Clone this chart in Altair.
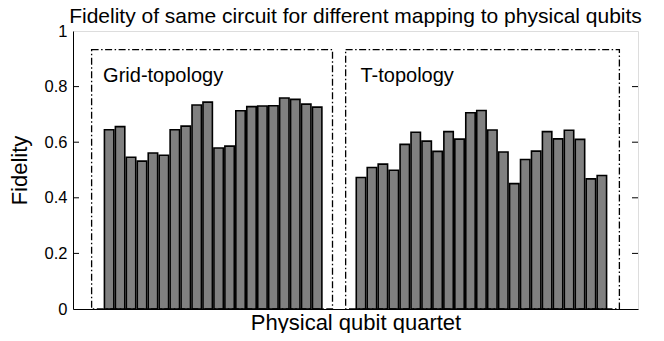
import altair as alt
import pandas as pd

# Fidelity values
grid_fidelity = [0.645, 0.656, 0.546, 0.532, 0.561, 0.553, 0.645, 0.658, 0.734, 0.744,
                 0.579, 0.586, 0.713, 0.728, 0.730, 0.731, 0.759, 0.754, 0.737, 0.726]
t_fidelity = [0.473, 0.509, 0.521, 0.499, 0.592, 0.636, 0.604, 0.567, 0.638, 0.611,
              0.706, 0.714, 0.644, 0.565, 0.451, 0.538, 0.568, 0.638, 0.612, 0.643,
              0.610, 0.468, 0.480]
group_names = ["Grid-topology", "T-topology"]
y_ticks = [0, 0.2, 0.4, 0.6, 0.8, 1]

FONT = "Liberation Sans"
HALF = 0.43

# bar table: grid quartets 1..20, gap of three slots, T quartets 24..46
pos_grid = list(range(1, len(grid_fidelity) + 1))
pos_t = list(range(len(grid_fidelity) + 4, len(grid_fidelity) + 4 + len(t_fidelity)))
bars = pd.DataFrame({
    "pos": pos_grid + pos_t,
    "fidelity": grid_fidelity + t_fidelity,
    "group": [group_names[0]] * len(grid_fidelity) + [group_names[1]] * len(t_fidelity),
})
bars["x0"] = bars["pos"] - HALF
bars["x1"] = bars["pos"] + HALF

# dashed group boxes and their labels
boxes = pd.DataFrame({
    "group": group_names,
    "left": [-0.6, 22.6],
    "right": [21.4, 47.6],
    "top": [0.933, 0.933],
    "bottom": [0, 0],
    "label_x": [0.45, 23.95],
    "label_y": [0.818, 0.818],
})

ticks = pd.DataFrame({"y": y_ticks[1:-1]})

xscale = alt.Scale(domain=[-2.3, 49.3], nice=False, zero=False)
yscale = alt.Scale(domain=[0, 1], nice=False)

W, H = 565, 278

bar_layer = alt.Chart(bars).mark_rect(
    fill="#808080", stroke="black", strokeWidth=1.6
).encode(
    x=alt.X("x0:Q", scale=xscale,
            axis=alt.Axis(title="Physical qubit quartet", labels=False, ticks=False,
                          grid=False, domainColor="black", titlePadding=3,
                          titleFont=FONT, titleFontSize=22, titleFontWeight="normal",
                          titleColor="black")),
    x2="x1:Q",
    y=alt.Y("fidelity:Q", scale=yscale,
            axis=alt.Axis(title="Fidelity", values=y_ticks, format=".1~f", ticks=False,
                          grid=False, domainColor="black", labelPadding=6,
                          labelFont=FONT, labelFontSize=16.5, labelColor="black",
                          titleFont=FONT, titleFontSize=22, titleFontWeight="normal",
                          titleColor="black", titlePadding=13)),
    y2=alt.Y2(datum=0),
)

box_layer = alt.Chart(boxes).mark_rect(
    fill=None, filled=False, stroke="black", strokeWidth=1.3, strokeDash=[7, 2.5, 1.5, 2.5]
).encode(
    x=alt.X("left:Q", scale=xscale),
    x2="right:Q",
    y=alt.Y("top:Q", scale=yscale),
    y2="bottom:Q",
)

label_layer = alt.Chart(boxes).mark_text(
    align="left", baseline="alphabetic", font=FONT, fontSize=20, color="black"
).encode(
    x=alt.X("label_x:Q", scale=xscale),
    y=alt.Y("label_y:Q", scale=yscale),
    text="group:N",
)

tick_left = alt.Chart(ticks).mark_rule(color="black", strokeWidth=1).encode(
    y=alt.Y("y:Q", scale=yscale), x=alt.value(0), x2=alt.value(6)
)
tick_right = alt.Chart(ticks).mark_rule(color="black", strokeWidth=1).encode(
    y=alt.Y("y:Q", scale=yscale), x=alt.value(W - 6), x2=alt.value(W)
)

chart = alt.layer(bar_layer, box_layer, label_layer, tick_left, tick_right).properties(
    width=W,
    height=H,
    title=alt.TitleParams(
        "Fidelity of same circuit for different mapping to physical qubits",
        font=FONT, fontSize=21, fontWeight="normal", color="black",
        anchor="middle", offset=-4,
    ),
    autosize=alt.AutoSizeParams(type="none"),
    padding={"left": 65, "top": 23, "right": 18, "bottom": 24},
).configure_view(
    stroke="black", strokeWidth=1
).configure(background="white")

chart.save("out.html", embed_options={"renderer": "svg", "actions": False})
